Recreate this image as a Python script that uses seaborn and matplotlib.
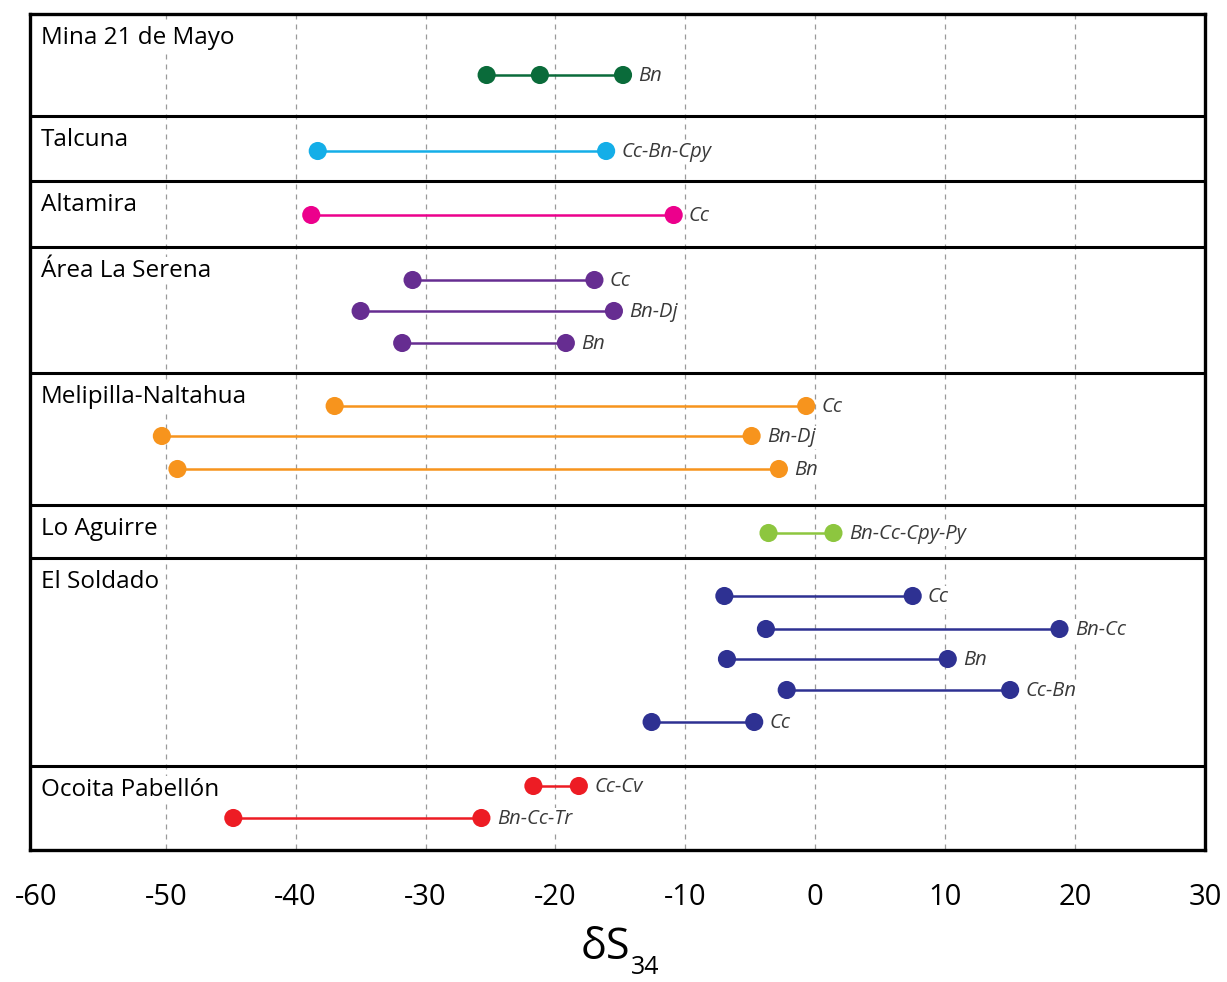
import pandas as pd
import matplotlib.pyplot as plt
import seaborn as sns

# data (delta S34 ranges per deposit)
groups = ["Mina 21 de Mayo", "Talcuna", "Altamira", "Área La Serena",
          "Melipilla-Naltahua", "Lo Aguirre", "El Soldado", "Ocoita Pabellón"]
group_colors = ["#0a6b3a", "#14aee8", "#ec008c", "#662d91",
                "#f7941d", "#8dc63f", "#2e3192", "#ed1c24"]

row_group = [0, 1, 2, 3, 3, 3, 4, 4, 4, 5, 6, 6, 6, 6, 6, 7, 7]
row_label = ["Bn", "Cc-Bn-Cpy", "Cc", "Cc", "Bn-Dj", "Bn", "Cc", "Bn-Dj", "Bn",
             "Bn-Cc-Cpy-Py", "Cc", "Bn-Cc", "Bn", "Cc-Bn", "Cc", "Cc-Cv", "Bn-Cc-Tr"]
row_min = [-25.3, -38.3, -38.8, -31.0, -35.0, -31.8, -37.0, -50.3, -49.1,
           -3.6, -7.0, -3.8, -6.8, -2.2, -12.6, -21.7, -44.8]
row_max = [-14.8, -16.1, -10.9, -17.0, -15.5, -19.2, -0.7, -4.9, -2.8,
           1.4, 7.5, 18.8, 10.2, 15.0, -4.7, -18.2, -25.7]
# extra measured points inside a range (row index -> values)
row_extra = {0: [-21.2]}

x_ticks = [-60, -50, -40, -30, -20, -10, 0, 10, 20, 30]

# layout (vertical placement of panels / rows, top-down)
panel_edges = [14, 116, 181, 247, 373, 505, 558, 766, 850]
row_pos = [75, 151, 215, 280, 311, 343, 406, 436, 469, 533,
           596, 629, 659, 690, 722, 786, 818]

recs = []
for i, g in enumerate(row_group):
    vals = [row_min[i]] + row_extra.get(i, []) + [row_max[i]]
    for v in vals:
        recs.append({"row": i, "group": groups[g], "x": v, "y": row_pos[i]})
df = pd.DataFrame(recs)
pal = dict(zip(groups, group_colors))

sns.set_style("white")
plt.rcParams["font.family"] = ["Open Sans", "DejaVu Sans"]
plt.rcParams["axes.unicode_minus"] = False

fig = plt.figure(figsize=(12.27, 9.82), dpi=100)
ax = fig.add_axes([30 / 1227, 1 - 850 / 982, 1175 / 1227, 836 / 982])

sns.lineplot(data=df, x="x", y="y", hue="group", units="row", estimator=None,
             palette=pal, lw=1.8, legend=False, ax=ax, zorder=3)
sns.scatterplot(data=df, x="x", y="y", hue="group", palette=pal, s=170,
                edgecolor="none", legend=False, ax=ax, zorder=4)

for i in range(len(row_group)):
    ax.annotate(row_label[i], (row_max[i], row_pos[i]), xytext=(11, -1),
                textcoords="offset points", va="center", ha="left",
                fontsize=14.5, style="italic", color="#3a3a3a", zorder=5,
                bbox=dict(facecolor="white", edgecolor="none", pad=1))

for g, top in zip(groups, panel_edges[:-1]):
    ax.annotate(g, (-60.45, top), xytext=(8, -17), textcoords="offset points",
                va="center", ha="left", fontsize=17.5, color="black", zorder=5,
                bbox=dict(facecolor="white", edgecolor="none", pad=1))

for e in panel_edges[1:-1]:
    ax.axhline(e, color="black", lw=2.2, zorder=6)

# dashed guides at inner ticks only
ax.vlines(x_ticks[1:-1], panel_edges[0], panel_edges[-1], color="#9a9a9a",
          lw=0.9, linestyle=(0, (4, 4)), zorder=1)

ax.set_xlim(-60.45, 29.95)
ax.set_ylim(panel_edges[-1], panel_edges[0])
ax.set_xticks(x_ticks)
ax.set_yticks([])
ax.tick_params(axis="x", length=0, pad=24, labelsize=21, labelcolor="black")
for s in ax.spines.values():
    s.set_visible(True)
    s.set_color("black")
    s.set_linewidth(2.4)
    s.set_zorder(7)

ax.set_xlabel("")
ax.set_ylabel("")
# axis title: delta S with lowered 34
fig.text(630 / 1227, 1 - 948 / 982, "δS", fontsize=31, ha="right", va="center",
         color="black")
fig.text(631 / 1227, 1 - 968 / 982, "34", fontsize=18, ha="left", va="center",
         color="black")

plt.savefig("out.png", dpi=100)
plt.close()
